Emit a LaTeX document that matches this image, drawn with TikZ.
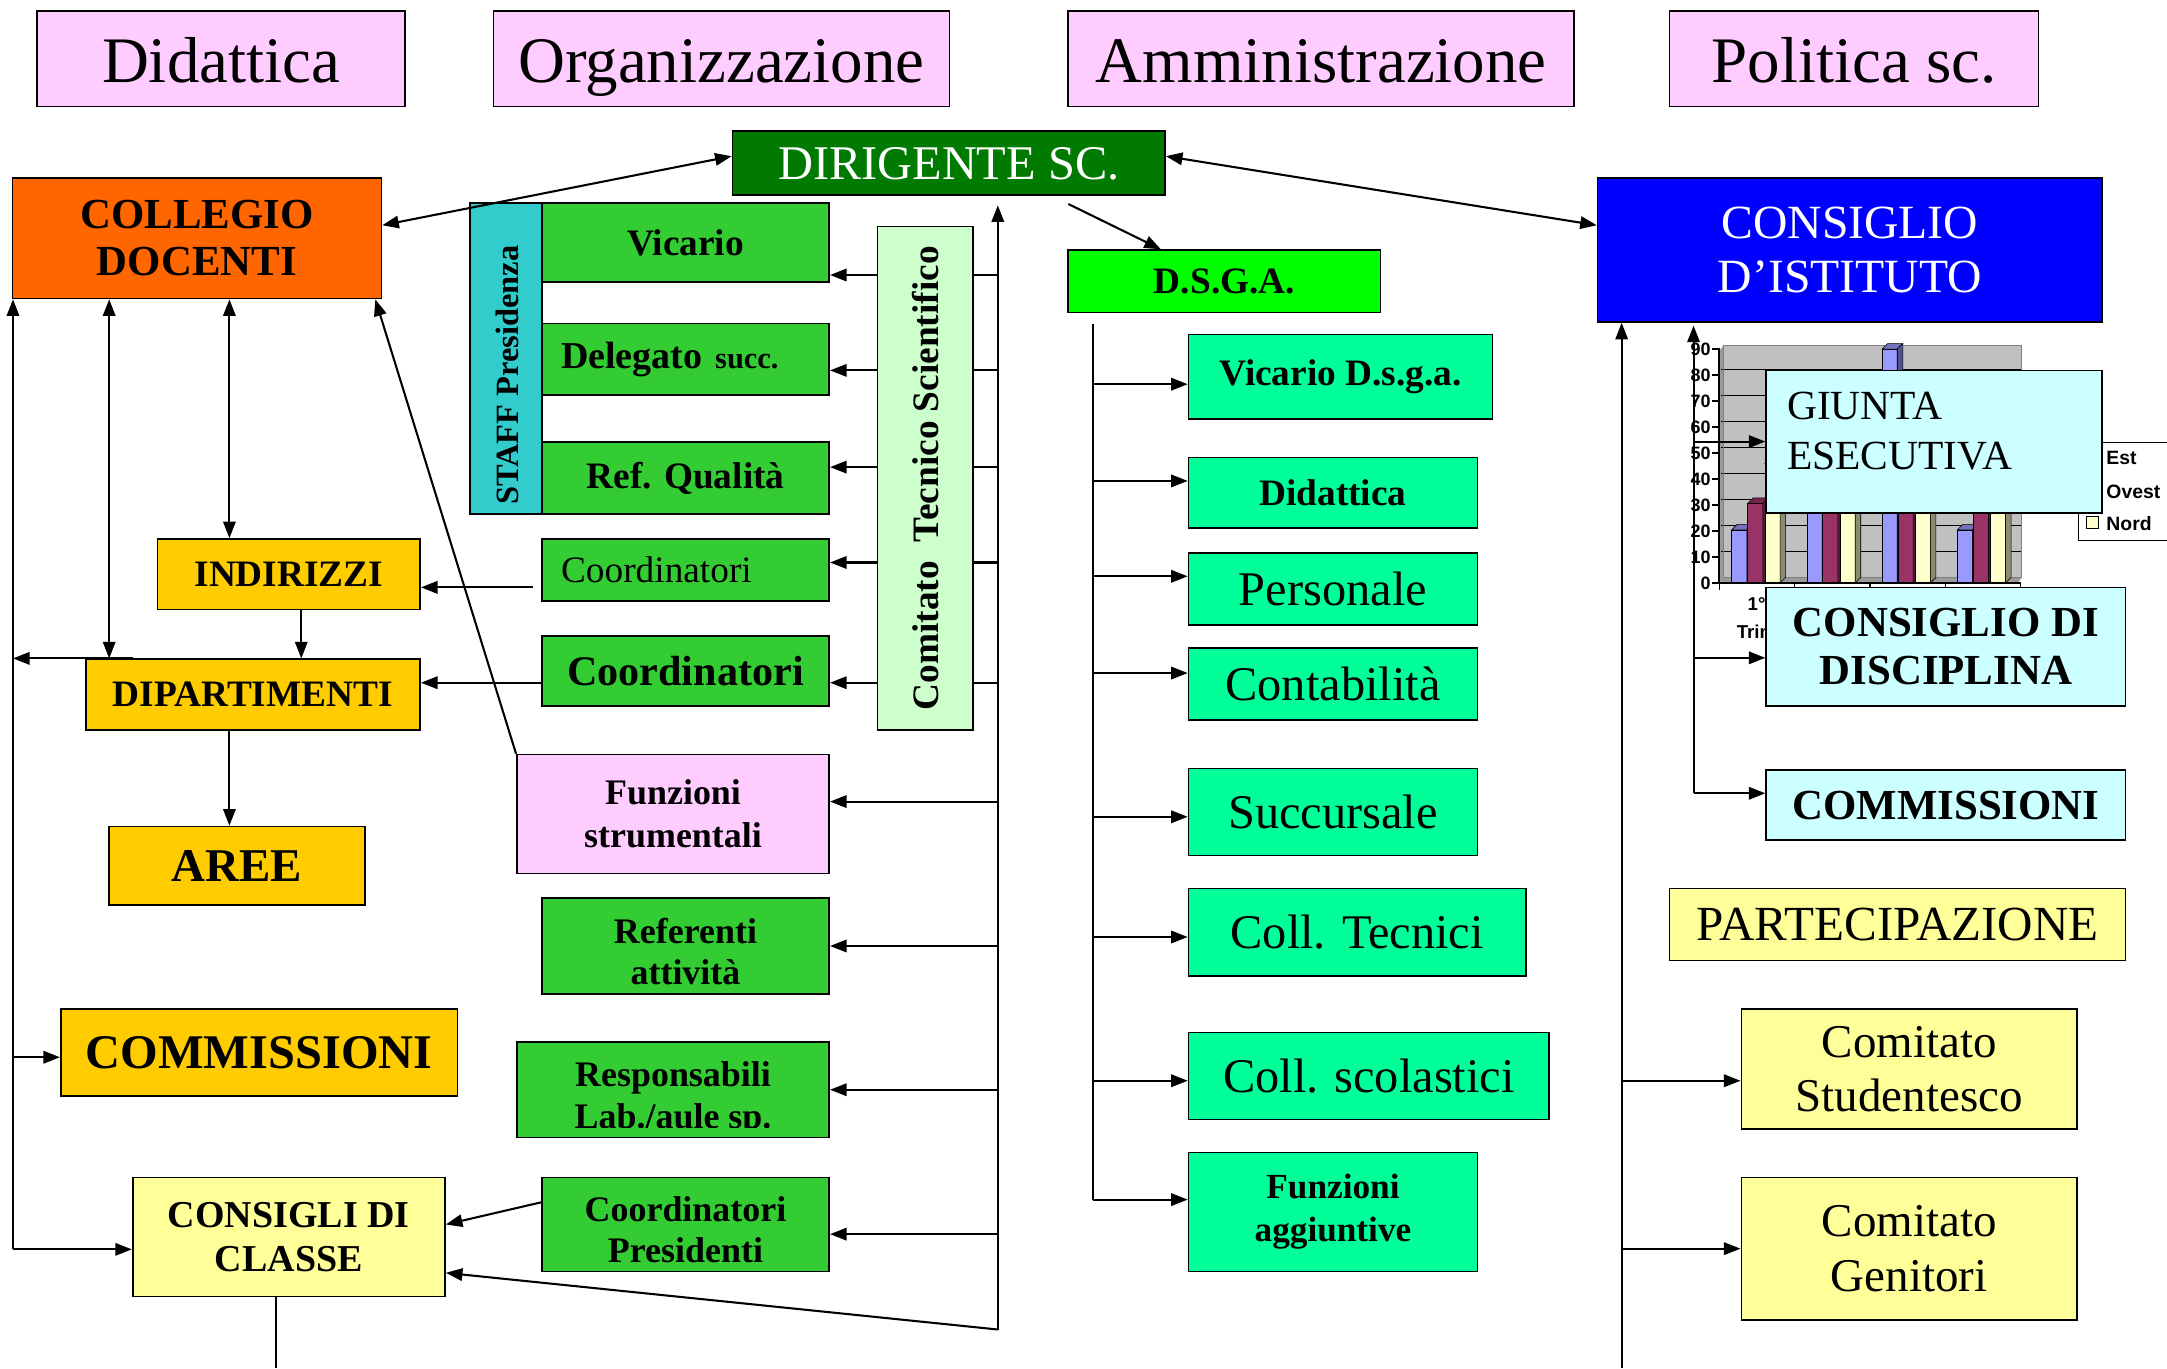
\documentclass[tikz,border=0pt]{standalone}
\usepackage{fontspec}
\setmainfont{Liberation Serif}
\newfontfamily\arialf{Liberation Sans}
\usetikzlibrary{arrows.meta}
\definecolor{cpink}{HTML}{FFCCFF}
\definecolor{cdgreen}{HTML}{007A00}
\definecolor{corange}{HTML}{FF6600}
\definecolor{cteal}{HTML}{33CCCC}
\definecolor{cgreen}{HTML}{33CC33}
\definecolor{clgreen}{HTML}{CCFFCC}
\definecolor{cgold}{HTML}{FFCC00}
\definecolor{cly}{HTML}{FFFF99}
\definecolor{cbright}{HTML}{00FF00}
\definecolor{csea}{HTML}{00FF99}
\definecolor{cblue}{HTML}{0000FF}
\definecolor{ccyan}{HTML}{CCFFFF}
\definecolor{chgrey}{HTML}{C0C0C0}
\definecolor{cest}{HTML}{9999FF}
\definecolor{covest}{HTML}{993366}
\definecolor{cnord}{HTML}{FFFFCC}
\newcommand\fsz[2]{\fontsize{#1}{#2}\selectfont}
\newcommand\chbar[3]{%
  \pgfmathsetmacro\cbt{421.8-1.88*#2}%
  \pgfmathsetmacro\cbx{#1}%
  \filldraw[fill=#3, draw=black, line width=0.4pt] (\cbx,421.8) rectangle ({\cbx+11},\cbt);
  \filldraw[fill=#3!75!black, draw=black, line width=0.4pt] (\cbx,\cbt) -- ({\cbx+4},{\cbt-4}) -- ({\cbx+15},{\cbt-4}) -- ({\cbx+11},\cbt) -- cycle;
  \filldraw[fill=#3!55!black, draw=black, line width=0.4pt] ({\cbx+11},\cbt) -- ({\cbx+15},{\cbt-4}) -- ({\cbx+15},417.8) -- ({\cbx+11},421.8) -- cycle;
}
\begin{document}
\begin{tikzpicture}[x=1pt,y=-1pt,
  box/.style={draw=black, line width=1.2pt, inner sep=0pt, align=center, anchor=center},
  hdr/.style={box, fill=cpink, minimum height=69pt, font=\fsz{47}{52}, text height=40pt, text depth=5pt},
  arr/.style={line width=1.5pt, -{Triangle[length=12pt,width=9pt]}},
  darr/.style={line width=1.5pt, {Triangle[length=12pt,width=9pt]}-{Triangle[length=12pt,width=9pt]}},
  ln/.style={line width=1.5pt},
  bx26/.style={font=\bfseries\fsz{26}{31}},
  bx27/.style={font=\bfseries\fsz{27}{31}},
  rg34/.style={font=\fsz{35}{39}}]
\useasboundingbox (0,0) rectangle (1568,990);
\fill[white] (0,0) rectangle (1568,990);

% ---------- headers
\node[hdr, minimum width=266pt] (hdid) at (160,42.5) {Didattica};
\node[hdr, minimum width=330pt] (horg) at (522,42.5) {Organizzazione};
\node[hdr, minimum width=366pt] (hamm) at (956,42.5) {Amministrazione};
\node[hdr, minimum width=267pt] (hpol) at (1341.5,42.5) {Politica sc.};

% ---------- top nodes
\node[box, fill=cdgreen, text=white, minimum width=313pt, minimum height=46pt, font=\fsz{35}{38}, text height=24pt, text depth=0pt] (dir) at (686.5,118) {DIRIGENTE SC.};
\node[box, fill=corange, minimum width=267pt, minimum height=87pt, font=\bfseries\fsz{31}{34}] (coll) at (142.5,172.5) {COLLEGIO\\DOCENTI};
\node[box, fill=cblue, text=white, minimum width=365pt, minimum height=104pt, font=\fsz{34.5}{39}] (cdi) at (1338.5,181) {CONSIGLIO\\D’ISTITUTO};

% ---------- organizzazione column
\node[box, fill=cteal, minimum width=52pt, minimum height=225pt] (staff) at (366,259.5) {};
\node[rotate=90, inner sep=0pt, font=\bfseries\fsz{23.5}{27}] (stafft) at (367,271.5) {STAFF Presidenza};
\node[box, fill=cgreen, minimum width=208pt, minimum height=57pt, bx27] (vic) at (496,175.5) {Vicario};
\node[box, fill=cgreen, minimum height=52pt, text width=180pt, inner xsep=14pt, align=left, font=\bfseries\fsz{27.5}{31}] (del) at (496,260) {Delegato\ {\fsz{22}{24}succ.}};
\node[box, fill=cgreen, minimum width=208pt, minimum height=52pt, bx27] (ref) at (496,346) {Ref. Qualità};
\node[box, fill=cgreen, minimum height=45pt, text width=180pt, inner xsep=14pt, align=left, font=\fsz{27}{29}] (coo1) at (496,412.5) {Coordinatori};
\node[box, fill=cgreen, minimum width=208pt, minimum height=51pt, font=\bfseries\fsz{30.5}{34}] (coo2) at (496,485.5) {Coordinatori};
\node[box, fill=cpink, minimum width=226pt, minimum height=86pt, bx26] (funz) at (487,589) {Funzioni\\strumentali};

\node[box, fill=cgreen, minimum width=208pt, minimum height=69pt] (refa) at (496,684.5) {};
\node[box, fill=cgreen, minimum width=226pt, minimum height=69pt] (resp) at (487,788.5) {};
\node[box, fill=cgreen, minimum width=208pt, minimum height=68pt] (cpres) at (496,886) {};
\begin{scope}
  \clip ([yshift=7pt]refa.south west) rectangle (refa.north east);
  \node[bx26, anchor=base, inner sep=0pt] (refa1) at ([yshift=2pt]refa.center) {Referenti};
  \node[bx26, anchor=base, inner sep=0pt] (refa2) at ([yshift=-28pt]refa.center) {attività};
\end{scope}
\begin{scope}
  \clip ([yshift=7.5pt]resp.south west) rectangle (resp.north east);
  \node[bx26, anchor=base, inner sep=0pt] (resp1) at ([yshift=2pt]resp.center) {Responsabili};
  \node[bx26, anchor=base, inner sep=0pt] (resp2) at ([yshift=-28pt]resp.center) {Lab./aule sp.};
\end{scope}
\begin{scope}
  \clip ([yshift=7pt]cpres.south west) rectangle (cpres.north east);
  \node[bx26, anchor=base, inner sep=0pt] (cpres1) at ([yshift=2.5pt]cpres.center) {Coordinatori};
  \node[bx26, anchor=base, inner sep=0pt] (cpres2) at ([yshift=-27.5pt]cpres.center) {Presidenti};
\end{scope}

% ---------- didattica column
\node[box, fill=cgold, minimum width=190pt, minimum height=51pt, bx27] (ind) at (209,415.5) {INDIRIZZI};
\node[box, fill=cgold, minimum width=242pt, minimum height=51pt, bx27] (dip) at (183,502.5) {DIPARTIMENTI};
\node[box, fill=cgold, minimum width=185pt, minimum height=57pt, font=\bfseries\fsz{34}{38}] (aree) at (171.5,626.5) {AREE};
\node[box, fill=cgold, minimum width=287pt, minimum height=63pt, font=\bfseries\fsz{35}{38}] (comL) at (187.5,761.5) {COMMISSIONI};
\node[box, fill=cly, minimum width=226pt, minimum height=86pt, font=\bfseries\fsz{27.5}{32}] (cdc) at (209,895) {CONSIGLI DI\\CLASSE};

% ---------- amministrazione column
\node[box, fill=cbright, minimum width=226pt, minimum height=45pt, font=\bfseries\fsz{27}{30}] (dsga) at (886,203.5) {D.S.G.A.};
\node[box, fill=csea, minimum width=220pt, minimum height=61pt, bx27] (vdsga) at (970,272.5) {Vicario D.s.g.a.};
\node[box, fill=csea, minimum width=209pt, minimum height=51pt, bx27] (ddid) at (964.5,356.5) {Didattica};
\node[box, fill=csea, minimum width=209pt, minimum height=52pt, rg34] (pers) at (964.5,426) {Personale};
\node[box, fill=csea, minimum width=209pt, minimum height=52pt, rg34] (cont) at (964.5,495) {Contabilità};
\node[box, fill=csea, minimum width=209pt, minimum height=63pt, rg34] (succ) at (964.5,587.5) {Succursale};
\node[box, fill=csea, minimum width=244pt, minimum height=63pt, rg34] (ctec) at (982,674.5) {Coll. Tecnici};
\node[box, fill=csea, minimum width=261pt, minimum height=63pt, rg34] (cscol) at (990.5,778.5) {Coll. scolastici};
\node[box, fill=csea, minimum width=209pt, minimum height=86pt, font=\bfseries\fsz{25.5}{31}] (faggi) at (964.5,877) {Funzioni\\aggiuntive};

% ---------- chart (behind giunta)
\begin{scope}
  \fill[chgrey] (1247,250) rectangle (1463,417.8);
  \fill[chgrey!80!black] (1244,254) -- (1247,250) -- (1247,417.8) -- (1244,421.8) -- cycle;
  \fill[chgrey!80!black] (1244,421.8) -- (1247,417.8) -- (1463,417.8) -- (1460,421.8) -- cycle;
  \foreach \v in {10,20,...,80}{
    \pgfmathsetmacro\yy{421.8-1.88*\v-4}
    \draw[line width=1pt] (1245,\yy) -- (1463,\yy);
  }
  \draw[gray, line width=0.8pt] (1247,250) rectangle (1463,417.8);
  \foreach \g/\e/\o/\nn in {0/20.4/30.6/45.9, 1/27.4/38.6/46.9, 2/90/34.6/45, 3/20.4/31.6/43.9}{
    \pgfmathsetmacro\gx{1253+54.4*\g}
    \chbar{\gx}{\e}{cest}
    \chbar{\gx+11.5}{\o}{covest}
    \chbar{\gx+24}{\nn}{cnord}
  }
  \draw[line width=1.2pt] (1244,252) -- (1244,421.8) -- (1462,421.8);
  \foreach \v in {0,10,...,90}{
    \pgfmathsetmacro\yy{421.8-1.88*\v}
    \draw[line width=1pt] (1239,\yy) -- (1244,\yy);
    \node[anchor=east, inner sep=1pt, font=\arialf\bfseries\fsz{13}{15}] (yl\v) at (1239,\yy) {\v};
  }
  \foreach \k in {0,1,2,3,4}{
    \draw[line width=1pt] ({1244+54.5*\k},421.8) -- ++(0,5);
  }
  \node[font=\arialf\bfseries\fsz{13.5}{15}, inner sep=0pt] (xl1) at (1271,437) {1°};
  \node[font=\arialf\bfseries\fsz{13.5}{15}, inner sep=0pt] (xl2) at (1271,457) {Trim};
  \filldraw[fill=white, draw=black, line width=0.8pt] (1504,320) rectangle (1590,391);
  \filldraw[fill=cest, draw=black, line width=0.6pt] (1510,327) rectangle (1518,335);
  \filldraw[fill=covest, draw=black, line width=0.6pt] (1510,352) rectangle (1518,360);
  \filldraw[fill=cnord, draw=black, line width=0.6pt] (1510,374) rectangle (1518,382);
  \node[anchor=west, inner sep=0pt, font=\arialf\bfseries\fsz{14}{15}] (lgE) at (1524,331) {Est};
  \node[anchor=west, inner sep=0pt, font=\arialf\bfseries\fsz{14}{15}] (lgO) at (1524,356) {Ovest};
  \node[anchor=west, inner sep=0pt, font=\arialf\bfseries\fsz{14}{15}] (lgN) at (1524,379) {Nord};
\end{scope}

% ---------- politica column
\node[box, fill=ccyan, minimum width=243pt, minimum height=103pt] (giunta) at (1399.5,319.5) {};
\node[anchor=west, align=left, inner sep=0pt, font=\fsz{30}{36}] (giuntat) at (1293,312) {GIUNTA\\ESECUTIVA};
\node[box, fill=ccyan, minimum width=260pt, minimum height=86pt, font=\bfseries\fsz{31}{35}] (cdisc) at (1408,468) {CONSIGLIO DI\\DISCIPLINA};
\node[box, fill=ccyan, minimum width=260pt, minimum height=51pt, font=\bfseries\fsz{31}{34}] (comR) at (1408,582.5) {COMMISSIONI};
\node[box, fill=cly, minimum width=330pt, minimum height=52pt, font=\fsz{35.5}{39}] (part) at (1373,669) {PARTECIPAZIONE};
\node[box, fill=cly, minimum width=243pt, minimum height=87pt, font=\fsz{34}{39}] (cstud) at (1381.5,773.5) {Comitato\\Studentesco};
\node[box, fill=cly, minimum width=243pt, minimum height=103pt, font=\fsz{34}{40}] (cgen) at (1381.5,903.5) {Comitato\\Genitori};

% ---------- connectors: dirigente
\draw[darr] ([yshift=5pt]dir.west) -- ([yshift=9.5pt]coll.east);
\draw[darr] ([yshift=5pt]dir.east) -- ([yshift=18pt]cdi.west);
\draw[arr] ([xshift=86.5pt,yshift=-6pt]dir.south) -- ([xshift=-46pt]dsga.north);

% center bus
\coordinate (ctop) at ([xshift=35.5pt,yshift=-7pt]dir.south);
\coordinate (cbot) at (722,962);
\draw[arr] (cbot) -- (ctop);
\foreach \n/\s in {vic/-23.5, del/-8, ref/8, coo1/5.5, coo2/-8.5, funz/9, refa/0, resp/0, cpres/-7}{
  \coordinate (tmp) at ([yshift=\s pt]\n.east);
  \draw[arr] (tmp -| ctop) -- (tmp);
}
\node[box, fill=clgreen, rotate=90, minimum width=364pt, minimum height=69pt, font=\bfseries\fsz{27}{31}] (cts) at (669.5,346) {Comitato\ \ Tecnico Scientifico};

% dsga bus
\coordinate (dtop) at ([xshift=-95pt,yshift=-8pt]dsga.south);
\foreach \n/\s in {vdsga/-5.5, ddid/8.5, pers/9, cont/8, succ/-3.5, ctec/-3.5, cscol/-3.5, faggi/9}{
  \coordinate (tmp) at ([yshift=\s pt]\n.west);
  \draw[arr] (tmp -| dtop) -- (tmp);
}
\coordinate (fa) at ([yshift=9pt]faggi.west);
\draw[ln] (dtop) -- (fa -| dtop);

% right buses
\coordinate (pbot) at (0,990);
\coordinate (r1) at ([xshift=18pt]cdi.south west);
\coordinate (r2) at ([xshift=70pt,yshift=-2pt]cdi.south west);
\draw[arr] (pbot -| r1) -- (r1);
\foreach \n/\s in {cstud/-8.5, cgen/0}{
  \coordinate (tmp) at ([yshift=\s pt]\n.west);
  \draw[arr] (tmp -| r1) -- (tmp);
}
\coordinate (cr) at ([yshift=8.5pt]comR.west);
\draw[arr] (cr -| r2) -- (r2);
\foreach \n/\s in {giunta/0, cdisc/-8, comR/8.5}{
  \coordinate (tmp) at ([yshift=\s pt]\n.west);
  \draw[arr] (tmp -| r2) -- (tmp);
}

% left connectors
\coordinate (a1) at ([xshift=-63.5pt]coll.south);
\draw[darr] (a1) -- (a1 |- dip.north);
\coordinate (a2) at ([xshift=23.5pt]coll.south);
\draw[darr] (a2) -- (a2 |- ind.north);
\coordinate (a3) at ([xshift=9pt]ind.south);
\draw[arr] (a3) -- (a3 |- dip.north);
\coordinate (a4) at ([xshift=-17pt]dip.south);
\draw[arr] (a4) -- (a4 |- aree.north);
\coordinate (lt) at ([xshift=1pt]coll.south west);
\coordinate (cw) at ([yshift=-9pt]cdc.west);
\coordinate (lb) at (cw -| lt);
\draw[arr] (lb) -- (lt);
\draw[arr] (lb) -- (cw);
\coordinate (cm) at ([yshift=-3.5pt]comL.west);
\draw[arr] (cm -| lt) -- (cm);
\coordinate (dn) at ([xshift=35pt]dip.north west);
\draw[arr] (dn) -- (dn -| lt);
\coordinate (c1) at ([xshift=-6pt,yshift=-12.5pt]coo1.west);
\draw[arr] (c1) -- (c1 -| ind.east);
\coordinate (c2) at ([yshift=-8.5pt]coo2.west);
\draw[arr] (c2) -- (c2 -| dip.east);
\draw[arr] (funz.north west) -- ([xshift=-5pt]coll.south east);
\draw[arr] ([yshift=16pt]cpres.west) -- ([yshift=9pt]cdc.east);
\draw[arr] (cbot) -- ([yshift=-26pt]cdc.east);
\coordinate (cb) at ([xshift=-9pt]cdc.south);
\draw[ln] (cb) -- (cb |- pbot);
\end{tikzpicture}
\end{document}
